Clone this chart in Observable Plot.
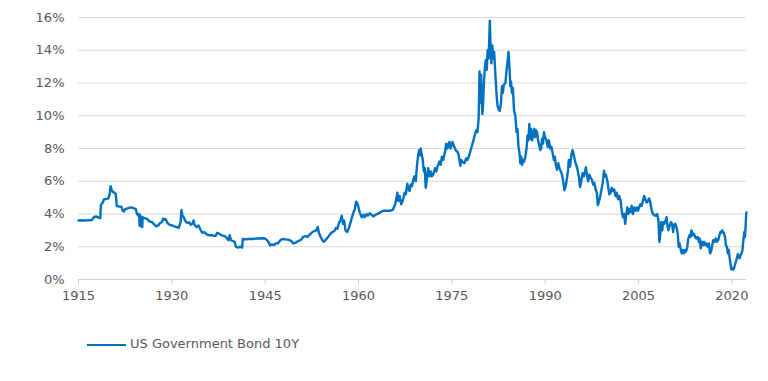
<!DOCTYPE html>
<html>
<head>
<meta charset="utf-8">
<script src="https://cdn.jsdelivr.net/npm/d3@7"></script>
<script src="https://cdn.jsdelivr.net/npm/@observablehq/plot@0.6"></script>
<style>
  html, body { margin: 0; padding: 0; background: #fff; }
  body { width: 768px; height: 381px; overflow: hidden; font-family: "DejaVu Sans", Verdana, sans-serif; }
  #legend { position: relative; height: 71px; }
  #legend .sw { position: absolute; left: 87px; top: 34px; width: 39px; height: 2px; background: #0070C0; }
  #legend .lb { position: absolute; left: 130px; top: 26px; font-size: 13px; color: #595959; white-space: nowrap; }
</style>
</head>
<body>
<div id="chart"></div>
<div id="legend"><div class="sw"></div><div class="lb">US Government Bond 10Y</div></div>
<script>
const seriesName = "US Government Bond 10Y";
const xTicks = [1915, 1930, 1945, 1960, 1975, 1990, 2005, 2020];
const yTicks = [0, 2, 4, 6, 8, 10, 12, 14, 16];
const years = [
1915.0,1915.5,1916.0,1916.5,1917.0,1917.3,1917.5,1917.9,1918.2,1918.5,1918.6,1918.9,1919.1,1919.5,1919.8,1920.0,1920.15,1920.3,1920.5,1920.8,
1921.0,1921.15,1921.5,1921.9,1922.1,1922.3,1922.5,1922.9,1923.4,1923.9,1924.2,1924.4,1924.6,1924.75,1924.8,1924.85,1925.05,1925.1,1925.25,1925.3,
1925.6,1926.0,1926.4,1926.8,1927.2,1927.5,1927.8,1928.1,1928.4,1928.6,1928.8,1929.0,1929.3,1929.6,1930.0,1930.4,1930.8,1931.1,1931.4,1931.55,
1931.7,1931.9,1932.2,1932.5,1932.8,1933.0,1933.3,1933.5,1933.7,1934.0,1934.3,1934.6,1934.9,1935.2,1935.6,1936.0,1936.5,1937.0,1937.3,1937.6,
1938.0,1938.5,1938.8,1939.1,1939.3,1939.5,1939.8,1940.1,1940.3,1940.6,1941.0,1941.3,1941.4,1942.0,1942.5,1943.0,1943.5,1944.0,1944.5,1945.0,
1945.3,1945.6,1945.8,1946.1,1946.4,1946.7,1947.0,1947.5,1947.8,1948.2,1948.8,1949.2,1949.5,1949.9,1950.3,1950.7,1951.1,1951.5,1951.8,1952.2,
1952.6,1952.9,1953.2,1953.45,1953.6,1953.9,1954.2,1954.4,1954.8,1955.2,1955.5,1955.8,1956.1,1956.4,1956.6,1956.9,1957.1,1957.3,1957.5,1957.7,
1957.9,1958.2,1958.5,1958.8,1959.1,1959.4,1959.6,1959.8,1960.0,1960.2,1960.5,1960.8,1961.0,1961.3,1961.5,1961.8,1962.1,1962.4,1962.7,1963.0,
1963.3,1963.7,1964.0,1964.5,1965.0,1965.5,1965.9,1966.1,1966.25,1966.4,1966.6,1966.85,1967.1,1967.4,1967.6,1967.85,1968.0,1968.2,1968.4,1968.6,
1968.8,1969.0,1969.2,1969.4,1969.6,1969.75,1969.9,1970.0,1970.15,1970.3,1970.5,1970.65,1970.8,1971.0,1971.2,1971.4,1971.6,1971.8,1972.0,1972.3,
1972.5,1972.7,1973.0,1973.2,1973.4,1973.6,1973.9,1974.1,1974.3,1974.6,1974.8,1975.1,1975.3,1975.6,1975.9,1976.1,1976.35,1976.5,1976.7,1977.0,
1977.3,1977.5,1977.8,1978.1,1978.4,1978.6,1978.9,1979.1,1979.3,1979.45,1979.55,1979.7,1979.8,1979.9,1980.0,1980.15,1980.3,1980.45,1980.6,1980.75,
1980.9,1981.0,1981.1,1981.2,1981.35,1981.5,1981.65,1981.8,1982.0,1982.2,1982.35,1982.5,1982.7,1982.9,1983.05,1983.2,1983.35,1983.6,1983.8,1984.0,
1984.1,1984.25,1984.4,1984.5,1984.65,1984.8,1985.0,1985.2,1985.4,1985.55,1985.7,1985.85,1986.0,1986.15,1986.3,1986.45,1986.6,1986.8,1987.0,1987.15,
1987.3,1987.45,1987.6,1987.75,1987.9,1988.1,1988.25,1988.4,1988.55,1988.7,1988.85,1989.0,1989.2,1989.35,1989.5,1989.65,1989.8,1989.95,1990.2,1990.4,
1990.6,1990.8,1991.0,1991.2,1991.4,1991.55,1991.7,1991.9,1992.1,1992.3,1992.5,1992.7,1992.9,1993.1,1993.3,1993.5,1993.65,1993.8,1994.0,1994.2,
1994.4,1994.6,1994.8,1995.0,1995.2,1995.4,1995.6,1995.8,1996.0,1996.2,1996.4,1996.55,1996.7,1996.9,1997.1,1997.3,1997.5,1997.7,1997.9,1998.1,
1998.3,1998.45,1998.6,1998.8,1998.95,1999.1,1999.25,1999.45,1999.6,1999.75,2000.0,2000.15,2000.3,2000.5,2000.7,2000.9,2001.1,2001.3,2001.5,2001.7,
2001.9,2002.1,2002.3,2002.5,2002.7,2002.85,2003.0,2003.2,2003.35,2003.5,2003.7,2003.9,2004.1,2004.3,2004.5,2004.7,2004.9,2005.1,2005.3,2005.5,
2005.7,2005.9,2006.1,2006.3,2006.5,2006.7,2006.9,2007.1,2007.3,2007.45,2007.6,2007.8,2008.0,2008.2,2008.35,2008.5,2008.65,2008.8,2008.95,2009.15,
2009.35,2009.5,2009.65,2009.8,2010.0,2010.2,2010.4,2010.55,2010.7,2010.9,2011.1,2011.3,2011.45,2011.6,2011.8,2011.95,2012.1,2012.3,2012.45,2012.6,
2012.8,2013.0,2013.2,2013.35,2013.5,2013.7,2013.9,2014.1,2014.3,2014.5,2014.7,2014.85,2015.0,2015.2,2015.4,2015.55,2015.7,2015.9,2016.1,2016.3,
2016.5,2016.65,2016.8,2017.0,2017.2,2017.4,2017.6,2017.8,2018.0,2018.15,2018.3,2018.45,2018.6,2018.75,2018.9,2019.05,2019.2,2019.35,2019.5,2019.65,
2019.8,2019.9,2020.05,2020.2,2020.35,2020.5,2020.65,2020.8,2020.95,2021.1,2021.25,2021.4,2021.55,2021.7,2021.85,2022.0,2022.1,2022.2,2022.3,2022.35
];
const yields = [
3.6,3.62,3.6,3.62,3.62,3.7,3.82,3.85,3.78,3.75,4.55,4.7,4.9,4.92,4.95,5.2,5.7,5.5,5.35,5.3,
5.2,4.5,4.45,4.45,4.2,4.15,4.3,4.35,4.4,4.35,4.3,4.0,3.9,4.0,3.3,3.95,3.25,3.85,3.2,3.8,
3.75,3.7,3.55,3.5,3.35,3.25,3.3,3.45,3.5,3.72,3.65,3.7,3.45,3.35,3.3,3.25,3.2,3.15,3.5,4.25,
3.9,3.8,3.55,3.45,3.5,3.35,3.4,3.6,3.3,3.2,3.3,3.05,2.85,2.9,2.75,2.7,2.7,2.65,2.85,2.8,
2.7,2.65,2.55,2.4,2.7,2.4,2.35,2.3,2.0,1.95,2.0,1.95,2.47,2.46,2.48,2.47,2.5,2.5,2.52,2.5,
2.4,2.25,2.08,2.15,2.1,2.2,2.2,2.42,2.47,2.45,2.42,2.35,2.2,2.25,2.35,2.4,2.6,2.65,2.6,2.75,
2.9,2.95,3.0,3.2,2.9,2.6,2.4,2.3,2.45,2.65,2.8,2.9,2.95,3.15,3.1,3.5,3.6,3.9,3.4,3.6,
3.0,2.9,3.2,3.6,4.0,4.3,4.75,4.65,4.4,4.1,3.8,3.95,3.8,4.0,3.9,4.05,3.95,3.85,3.95,4.0,
4.05,4.15,4.2,4.2,4.2,4.25,4.6,5.0,5.3,4.8,5.1,4.6,4.8,5.3,5.2,5.85,5.6,5.4,5.8,5.7,
6.1,6.3,6.0,7.0,7.6,7.9,7.6,8.0,7.6,7.4,6.6,6.8,5.6,6.2,6.8,6.3,6.6,6.3,6.4,6.8,
6.6,6.9,7.2,7.0,7.5,7.3,7.8,8.3,8.0,8.4,8.0,8.4,8.2,7.9,7.8,7.6,6.95,7.3,7.2,7.1,
7.4,7.3,7.6,8.0,8.4,8.7,9.1,9.0,9.8,12.7,10.8,12.5,11.0,10.1,10.6,12.0,12.9,13.4,12.8,14.0,
13.5,14.6,15.8,14.5,13.2,14.3,13.5,13.9,12.5,11.2,10.6,10.4,10.3,10.8,11.8,11.4,11.9,12.0,12.8,13.5,
13.9,13.0,11.8,12.1,11.4,11.7,10.3,10.0,9.0,9.2,8.1,7.8,7.1,7.5,7.0,7.3,7.2,7.5,8.0,8.8,
8.5,9.5,8.6,9.2,8.5,8.9,9.2,8.7,9.1,9.0,8.5,8.3,7.9,8.0,8.6,8.3,9.0,8.7,8.5,8.1,
8.5,8.0,8.1,7.7,7.3,7.5,7.0,6.7,7.1,6.8,6.6,6.4,6.0,5.45,5.7,6.2,6.6,7.3,6.9,7.6,
7.9,7.6,7.2,7.0,6.7,6.3,5.65,6.0,6.5,6.3,6.6,6.85,6.4,6.0,6.4,6.2,6.1,5.8,5.9,5.5,
5.3,4.55,4.7,5.0,5.3,5.6,5.9,6.65,6.3,6.4,6.0,5.6,5.2,5.3,5.6,5.4,5.5,5.1,5.3,4.9,
5.1,4.85,4.2,3.8,4.0,3.4,3.9,4.4,4.0,4.3,4.1,4.5,4.0,4.4,4.2,4.4,4.2,4.4,4.6,4.5,
4.8,5.1,4.9,4.7,4.8,4.95,4.7,4.25,4.0,4.0,3.9,3.9,4.0,3.6,2.3,2.8,3.5,3.0,3.5,3.4,
3.6,3.8,3.3,3.0,3.3,3.5,3.4,2.9,3.3,3.4,3.2,2.8,2.0,2.2,1.8,1.6,1.8,1.6,1.8,1.7,
1.9,2.5,2.7,2.6,3.0,2.7,2.8,2.6,2.5,2.6,2.3,2.5,1.9,2.3,2.1,2.3,2.1,2.2,2.0,2.2,
1.6,1.7,2.0,2.4,2.3,2.5,2.3,2.4,2.7,2.9,2.85,3.0,2.9,2.8,2.6,2.1,2.0,1.6,1.8,1.3,
0.9,0.62,0.7,0.6,0.7,0.9,1.1,1.3,1.55,1.45,1.3,1.5,1.6,1.8,2.4,2.9,2.6,3.2,4.0,4.1
];
const data = years.map((t, i) => ({year: t, value: yields[i], series: seriesName}));

const grey = "#595959";
const chart = Plot.plot({
  width: 768,
  height: 310,
  marginLeft: 78,
  marginRight: 22,
  marginTop: 17,
  marginBottom: 31,
  style: {fontFamily: "'DejaVu Sans', Verdana, sans-serif", fontSize: "13px", color: grey, background: "#fff"},
  x: {domain: [1915, 2022.35], ticks: xTicks},
  y: {domain: [0, 16], ticks: yTicks},
  marks: [
    Plot.gridY(yTicks.filter(d => d > 0), {stroke: "#d9d9d9", strokeOpacity: 1, strokeWidth: 1}),
    Plot.ruleY([0], {stroke: "#d0d0d0", strokeWidth: 1}),
    Plot.axisY(yTicks, {tickSize: 0, tickPadding: 14, tickFormat: d => d + "%", fontSize: 13, fill: grey, label: null}),
    Plot.axisX(xTicks, {tickSize: 5, tickPadding: 6, stroke: "#d0d0d0", tickFormat: d => String(d), fontSize: 13, fill: grey, label: null}),
    Plot.line(data, {x: "year", y: "value", stroke: "#0070C0", strokeWidth: 2.4, strokeLinejoin: "round", curve: "linear"})
  ]
});
document.getElementById("chart").appendChild(chart);
</script>
</body>
</html>
